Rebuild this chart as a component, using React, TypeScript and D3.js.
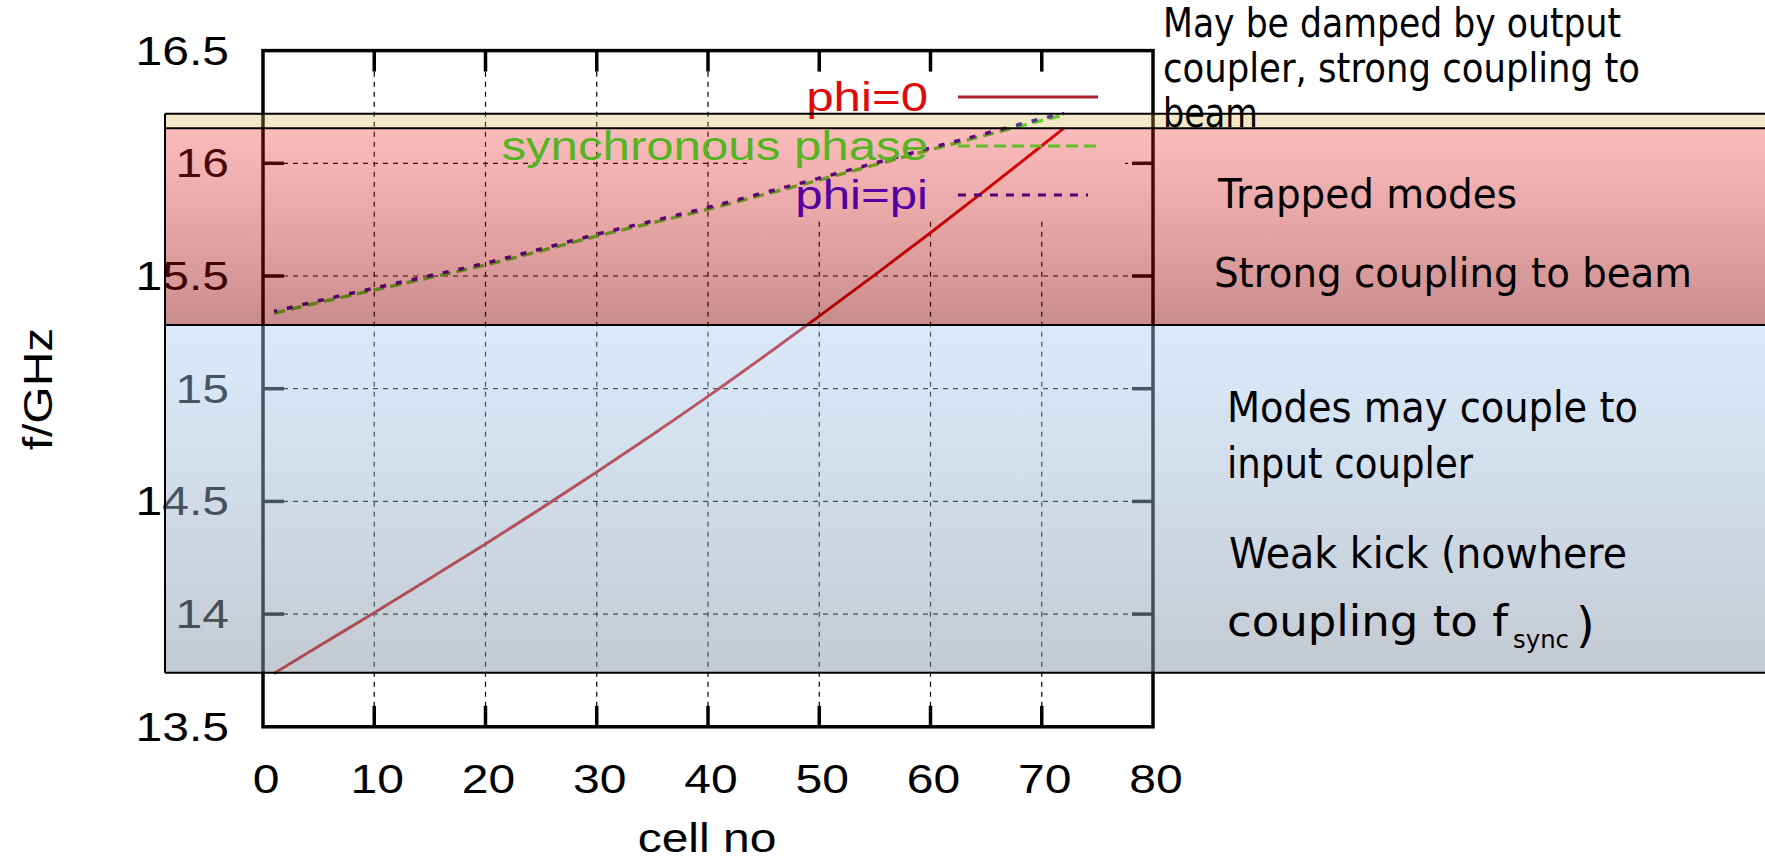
import React, { useEffect, useRef } from 'react';
import * as d3 from 'd3';

const cells = [1, 5, 10, 15, 20, 25, 30, 35, 40, 45, 50, 55, 60, 65, 70, 72];
const phi0 = [13.737, 13.857, 14.006, 14.158, 14.311, 14.469, 14.63, 14.796, 14.966, 15.142, 15.322, 15.505, 15.692, 15.883, 16.078, 16.156];
const syncPhase = [15.335, 15.382, 15.438, 15.493, 15.549, 15.612, 15.677, 15.736, 15.796, 15.861, 15.926, 15.993, 16.06, 16.125, 16.19, 16.214];
const phiPi = [15.343, 15.39, 15.446, 15.501, 15.557, 15.62, 15.685, 15.744, 15.804, 15.869, 15.934, 16.001, 16.068, 16.133, 16.198, 16.222];

const seriesNames = ['phi=0', 'synchronous phase', 'phi=pi'];

const xTicks = [0, 10, 20, 30, 40, 50, 60, 70, 80];
const yTicks = [13.5, 14, 14.5, 15, 15.5, 16, 16.5];

// frequency bands (GHz)
const bandTop = [16.22, 16.155, 15.283];
const bandBottom = [16.155, 15.283, 13.74];

const outputNote = ['May be damped by output', 'coupler, strong coupling to', 'beam'];
const trappedNote = ['Trapped modes', 'Strong coupling to beam'];
const inputNote = ['Modes may couple to', 'input coupler', 'Weak kick (nowhere', 'coupling to f'];

export default function App() {
  const ref = useRef<SVGSVGElement>(null);

  useEffect(() => {
    const svg = d3.select(ref.current);
    svg.selectAll('*').remove();

    const x = d3.scaleLinear().domain([0, 80]).range([263, 1153]);
    const y = d3.scaleLinear().domain([13.5, 16.5]).range([726.8, 50.6]);
    const x0 = x(0), x1 = x(80), yb = y(13.5), yt = y(16.5);
    const arial = '"Liberation Sans", Arial, sans-serif';
    const comic = '"DejaVu Sans", sans-serif';

    const defs = svg.append('defs');
    const grads = [
      [['rgb(212,178,72)', 0.3], ['rgb(212,178,72)', 0.3]],
      [['rgb(240,30,30)', 0.3], ['rgb(133,0,0)', 0.45]],
      [['rgb(167,205,243)', 0.42], ['rgb(137,149,165)', 0.5]],
    ];
    grads.forEach((g, i) => {
      const lg = defs.append('linearGradient').attr('id', 'band' + i)
        .attr('x1', 0).attr('y1', 0).attr('x2', 0).attr('y2', 1);
      lg.append('stop').attr('offset', 0).attr('stop-color', g[0][0] as string).attr('stop-opacity', g[0][1] as number);
      lg.append('stop').attr('offset', 1).attr('stop-color', g[1][0] as string).attr('stop-opacity', g[1][1] as number);
    });

    svg.append('rect').attr('width', 1765).attr('height', 864).attr('fill', '#fff');

    // grid
    const grid = svg.append('g').attr('stroke', '#000').attr('stroke-width', 1.2).attr('stroke-dasharray', '5,5');
    xTicks.slice(1, -1).forEach(v => {
      grid.append('line').attr('x1', x(v)).attr('x2', x(v)).attr('y1', yb).attr('y2', yt);
    });
    yTicks.slice(1, -1).forEach(v => {
      grid.append('line').attr('x1', x0).attr('x2', x1).attr('y1', y(v)).attr('y2', y(v));
    });

    // legend box blanks the grid
    svg.append('rect').attr('x', 747).attr('y', yt).attr('width', 378).attr('height', 217 - yt).attr('fill', '#fff');

    // curves
    const line = d3.line<number>()
      .x((d, i) => x(cells[i]))
      .y(d => y(d))
      .curve(d3.curveMonotoneX);

    svg.append('path').attr('d', line(phi0)).attr('fill', 'none')
      .attr('stroke', 'rgb(205,0,0)').attr('stroke-width', 3);
    svg.append('path').attr('d', line(syncPhase)).attr('fill', 'none')
      .attr('stroke', 'rgb(60,220,40)').attr('stroke-width', 3.5).attr('stroke-dasharray', '11,6');
    svg.append('path').attr('d', line(phiPi)).attr('fill', 'none')
      .attr('stroke', 'rgb(30,0,170)').attr('stroke-width', 3.5).attr('stroke-dasharray', '6,10').attr('stroke-dashoffset', 3);

    // frame and ticks
    const ax = svg.append('g').attr('stroke', '#000').attr('stroke-width', 3.5);
    ax.append('rect').attr('x', x0).attr('y', yt).attr('width', x1 - x0).attr('height', yb - yt).attr('fill', 'none');
    xTicks.slice(1, -1).forEach(v => {
      ax.append('line').attr('x1', x(v)).attr('x2', x(v)).attr('y1', yb).attr('y2', yb - 21);
      ax.append('line').attr('x1', x(v)).attr('x2', x(v)).attr('y1', yt).attr('y2', yt + 21);
    });
    yTicks.slice(1, -1).forEach(v => {
      ax.append('line').attr('x1', x0).attr('x2', x0 + 21).attr('y1', y(v)).attr('y2', y(v));
      ax.append('line').attr('x1', x1).attr('x2', x1 - 21).attr('y1', y(v)).attr('y2', y(v));
    });

    const labels = svg.append('g').attr('font-family', arial).attr('font-size', 40).attr('fill', '#000');
    yTicks.forEach(v => {
      labels.append('text').attr('transform', `translate(229,${y(v) + 14}) scale(1.2,1)`)
        .attr('text-anchor', 'end').text(String(v));
    });
    xTicks.forEach(v => {
      labels.append('text').attr('transform', `translate(${x(v) + 3},793) scale(1.2,1)`)
        .attr('text-anchor', 'middle').text(String(v));
    });
    labels.append('text').attr('transform', 'translate(52,389) rotate(-90) scale(1.2,1)')
      .attr('text-anchor', 'middle').text('f/GHz');
    labels.append('text').attr('transform', 'translate(707,852) scale(1.2,1)')
      .attr('text-anchor', 'middle').text('cell no');

    // band overlays
    bandTop.forEach((t, i) => {
      svg.append('rect').attr('x', 165).attr('y', y(t)).attr('width', 1620).attr('height', y(bandBottom[i]) - y(t))
        .attr('fill', `url(#band${i})`);
    });

    // legend
    const legY = [97, 146, 195];
    const legColor = ['rgb(225,10,10)', 'rgb(85,180,35)', 'rgb(85,0,160)'];
    const sampleColor = ['rgb(175,35,45)', 'rgb(100,190,40)', 'rgb(75,0,120)'];
    const sampleDash = [null, '12,6', '8,8'];
    const sampleEnd = [1098, 1098, 1088];
    seriesNames.forEach((name, i) => {
      svg.append('text').attr('transform', `translate(928,${legY[i] + 14}) scale(1.23,1)`)
        .attr('text-anchor', 'end').attr('font-family', arial).attr('font-size', 40)
        .attr('fill', legColor[i]).text(name);
      svg.append('line').attr('x1', 958).attr('x2', sampleEnd[i]).attr('y1', legY[i]).attr('y2', legY[i])
        .attr('stroke', sampleColor[i]).attr('stroke-width', 3)
        .attr('stroke-dasharray', sampleDash[i]);
    });

    // band borders
    const borders = svg.append('g').attr('stroke', '#000').attr('stroke-width', 2);
    [bandTop[0], ...bandBottom].forEach(v => {
      borders.append('line').attr('x1', 165).attr('x2', 1765).attr('y1', y(v)).attr('y2', y(v));
    });
    borders.append('line').attr('x1', 165).attr('x2', 165).attr('y1', y(bandTop[0])).attr('y2', y(bandBottom[2]));

    // notes
    const notes = svg.append('g').attr('font-family', comic).attr('fill', '#000');
    const put = (s: string, px: number, py: number, len: number, size = 40) => {
      notes.append('text').attr('x', px).attr('y', py).attr('font-size', size)
        .attr('textLength', len).attr('lengthAdjust', 'spacingAndGlyphs').text(s);
    };
    put(outputNote[0], 1163, 37, 458, 41);
    put(outputNote[1], 1163, 82, 477, 41);
    put(outputNote[2], 1163, 127, 95, 41);
    put(trappedNote[0], 1218, 208, 299);
    put(trappedNote[1], 1214, 287, 478);
    put(inputNote[0], 1227, 422, 411, 42);
    put(inputNote[1], 1227, 478, 246, 42);
    put(inputNote[2], 1229, 568, 398, 42);
    put(inputNote[3], 1227, 636, 281, 42);
    put('sync', 1513, 648, 56, 24);
    notes.append('text').attr('x', 1576).attr('y', 642).attr('font-size', 48).text(')');
  }, []);

  return (
    <svg ref={ref} width={1765} height={864}
      style={{ position: 'absolute', left: 0, top: 0, display: 'block' }} />
  );
}
